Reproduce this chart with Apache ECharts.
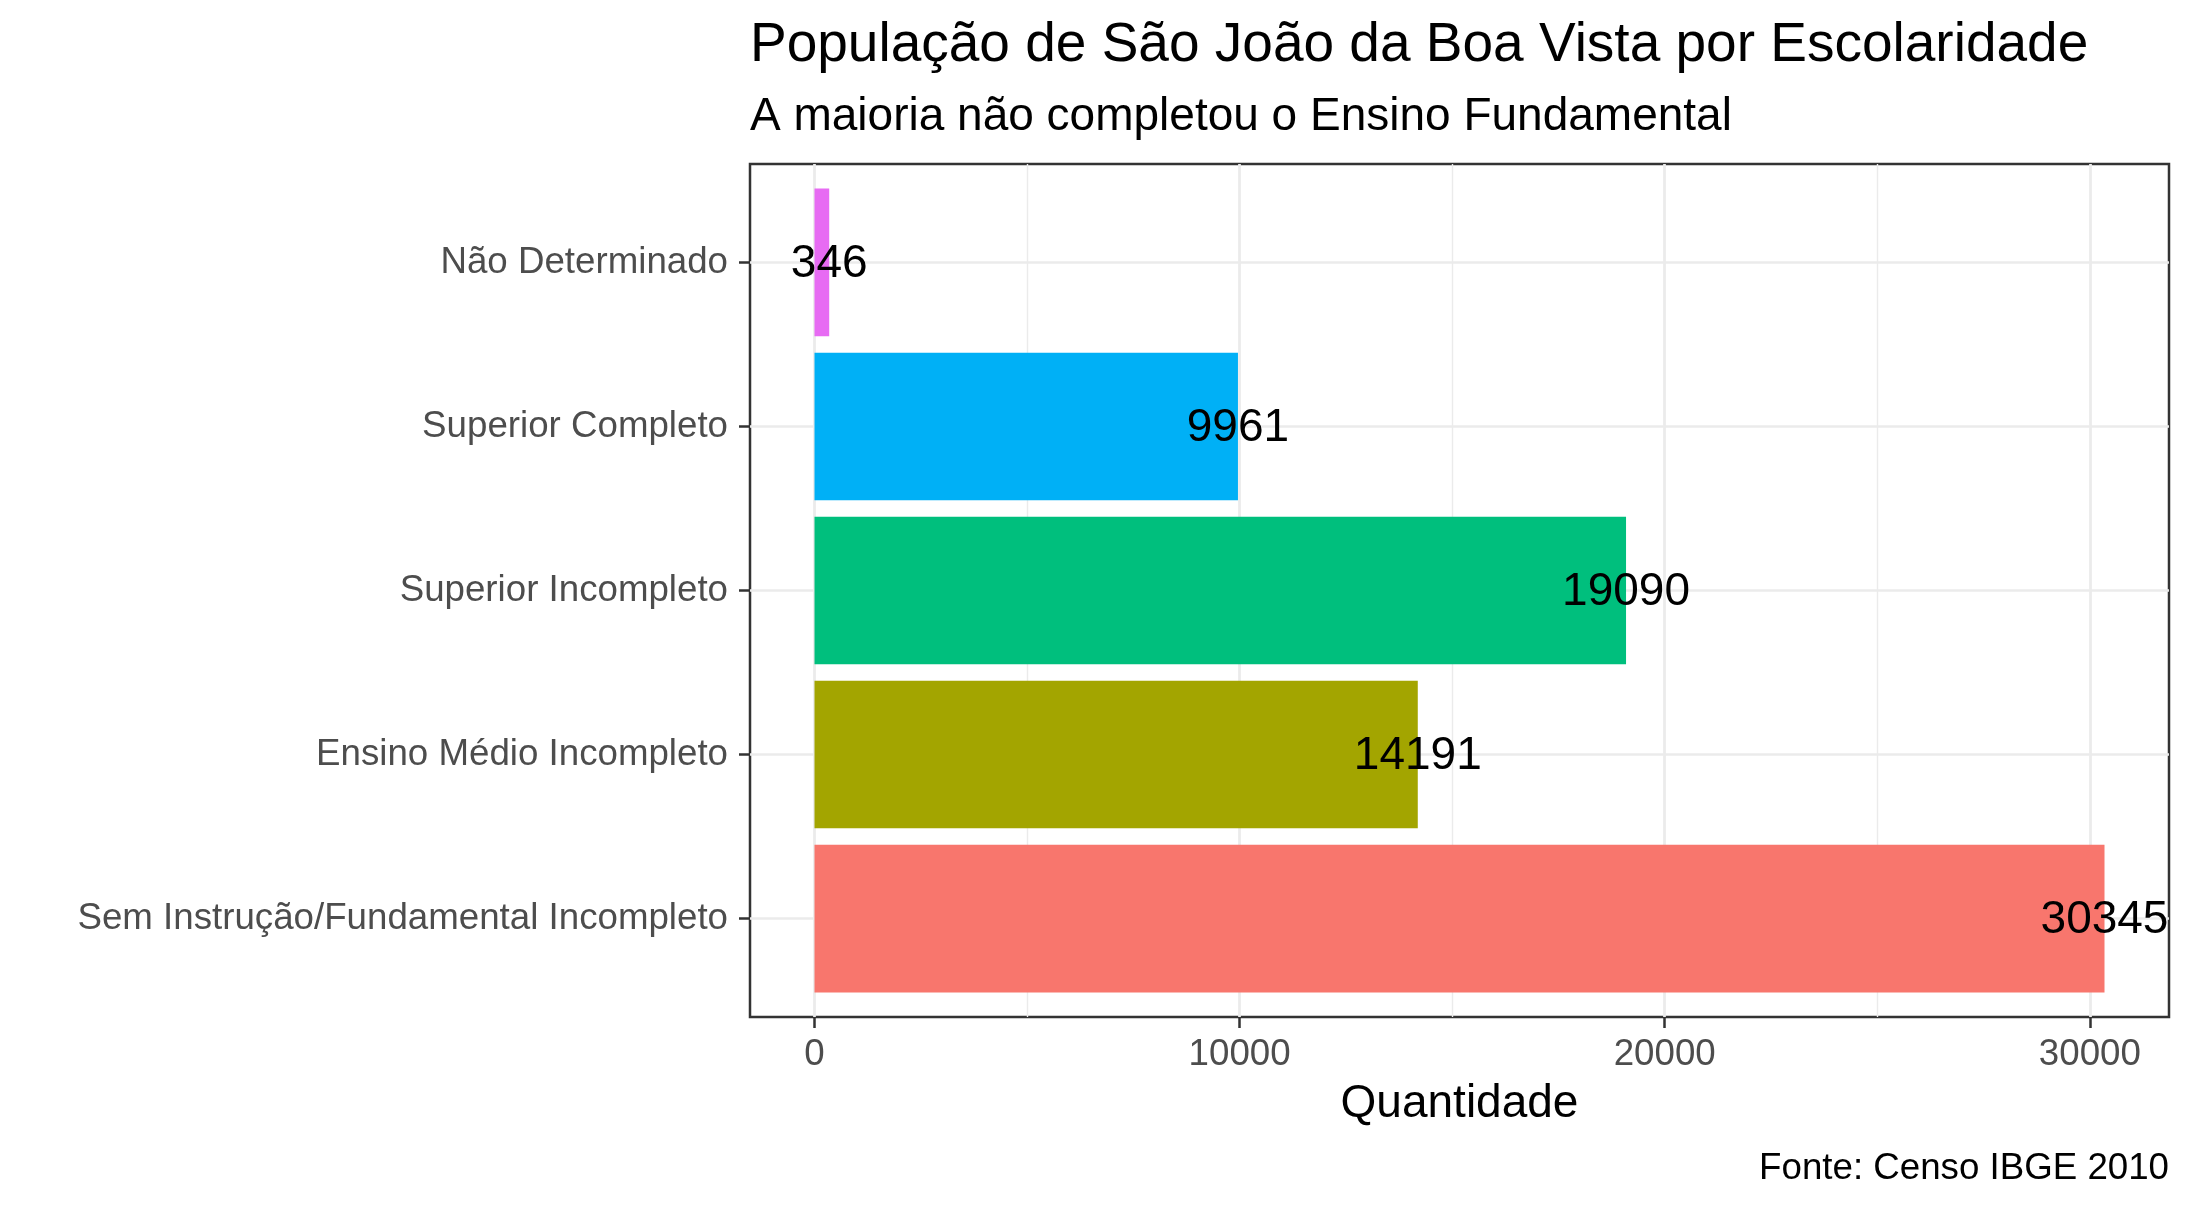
<!DOCTYPE html>
<html>
<head>
<meta charset="utf-8">
<script src="https://cdn.jsdelivr.net/npm/echarts@6/dist/echarts.min.js"></script>
<style>
    html, body { margin: 0; padding: 0; background: #ffffff; }
    #chart { width: 2193px; height: 1209px; }
</style>
</head>
<body>
<div id="chart"></div>
<script>
// dados (de baixo para cima no eixo)
const categorias = [
    "Sem Instrução/Fundamental Incompleto",
    "Ensino Médio Incompleto",
    "Superior Incompleto",
    "Superior Completo",
    "Não Determinado"
];
const quantidades = [30345, 14191, 19090, 9961, 346];
const cores = ["#F8766D", "#A3A500", "#00BF7D", "#00B0F6", "#E76BF3"];
const ticksPrincipais = [0, 10000, 20000, 30000];
const ticksSecundarios = [0, 5000, 10000, 15000, 20000, 25000, 30000];

document.addEventListener("DOMContentLoaded", function () {
    const chartDom = document.getElementById("chart");
    const myChart = echarts.init(chartDom);

    const fonte = '"Liberation Sans", Arial, sans-serif';

    // painel
    const painel = { left: 750, top: 164, width: 1419, height: 853 };
    const n = categorias.length;
    const indices = categorias.map((_, i) => i);
    const meiaBarra = 0.45; // largura da barra 0.9

    // expansão de 5% no eixo x
    const maxQ = Math.max(...quantidades);
    const xMin = -0.05 * maxQ;
    const xMax = maxQ * 1.05;

    const corGrade = "#EBEBEB";
    const corTexto = "#4D4D4D";

    let option = {
        animation: false,
        backgroundColor: "#ffffff",
        textStyle: { fontFamily: fonte },
        title: [
            {
                text: "População de São João da Boa Vista por Escolaridade",
                left: 750, top: 18.5, padding: 0,
                textStyle: { fontFamily: fonte, fontSize: 55, lineHeight: 55, fontWeight: "normal", color: "#000000" }
            },
            {
                text: "A maioria não completou o Ensino Fundamental",
                left: 750, top: 94.7, padding: 0,
                textStyle: { fontFamily: fonte, fontSize: 46, lineHeight: 46, fontWeight: "normal", color: "#000000" }
            }
        ],
        grid: {
            left: painel.left, top: painel.top, width: painel.width, height: painel.height,
            containLabel: false, outerBoundsMode: "none",
            show: true, borderColor: "#333333", borderWidth: 2.5, backgroundColor: "transparent"
        },
        xAxis: [
            {
                type: "value", min: xMin, max: xMax, position: "bottom",
                axisLine: { show: false, onZero: false },
                axisTick: { show: true, customValues: ticksPrincipais, length: 11, lineStyle: { color: "#333333", width: 2.5 } },
                axisLabel: {
                    customValues: ticksPrincipais, fontFamily: fonte, fontSize: 36.7, lineHeight: 36.7,
                    color: corTexto, margin: 20, formatter: (v) => String(v)
                },
                splitLine: { show: true, lineStyle: { color: corGrade, width: 2.7 } }
            },
            {
                type: "value", min: xMin, max: xMax,
                axisLine: { show: false, onZero: false },
                axisTick: { show: false, customValues: ticksSecundarios },
                axisLabel: { show: false },
                splitLine: { show: true, lineStyle: { color: corGrade, width: 1.4 } }
            }
        ],
        yAxis: {
            // eixo discreto com expansão de 0.6 de cada lado
            type: "value", min: -0.6, max: n - 1 + 0.6,
            axisLine: { show: false, onZero: false },
            axisTick: { show: true, customValues: indices, length: 11, lineStyle: { color: "#333333", width: 2.5 } },
            axisLabel: {
                customValues: indices, fontFamily: fonte, fontSize: 36.7, color: corTexto, margin: 22,
                padding: [13, 0, 0, 0], formatter: (v) => categorias[Math.round(v)]
            },
            splitLine: { show: true, lineStyle: { color: corGrade, width: 2.7 } }
        },
        series: [
            {
                name: "Quantidade",
                type: "custom",
                xAxisIndex: 0,
                yAxisIndex: 0,
                z: 3,
                clip: false,
                encode: { x: 1, y: 0 },
                data: quantidades.map((v, i) => [i, v]),
                renderItem: function (params, api) {
                    const i = api.value(0);
                    const v = api.value(1);
                    const p0 = api.coord([0, i + meiaBarra]);
                    const p1 = api.coord([v, i - meiaBarra]);
                    return {
                        type: "group",
                        children: [
                            {
                                type: "rect",
                                shape: { x: p0[0], y: p0[1], width: p1[0] - p0[0], height: p1[1] - p0[1] },
                                style: { fill: cores[i] }
                            },
                            {
                                type: "text",
                                x: p1[0],
                                y: (p0[1] + p1[1]) / 2 + 2,
                                z2: 10,
                                style: {
                                    text: String(v), fontFamily: fonte, fontSize: 46, fill: "#000000",
                                    align: "center", verticalAlign: "middle"
                                }
                            }
                        ]
                    };
                }
            }
        ],
        graphic: [
            {
                type: "text", x: 1459.5, y: 1104,
                style: { text: "Quantidade", fontFamily: fonte, fontSize: 46, fill: "#000000", align: "center", verticalAlign: "middle" }
            },
            {
                type: "text", x: 2169, y: 1168.6,
                style: { text: "Fonte: Censo IBGE 2010", fontFamily: fonte, fontSize: 36.7, fill: "#000000", align: "right", verticalAlign: "middle" }
            }
        ]
    };

    try {
        myChart.setOption(option);
    } catch (error) {
        console.error("Erro ao carregar o gráfico:", error);
    }
});
</script>
</body>
</html>
